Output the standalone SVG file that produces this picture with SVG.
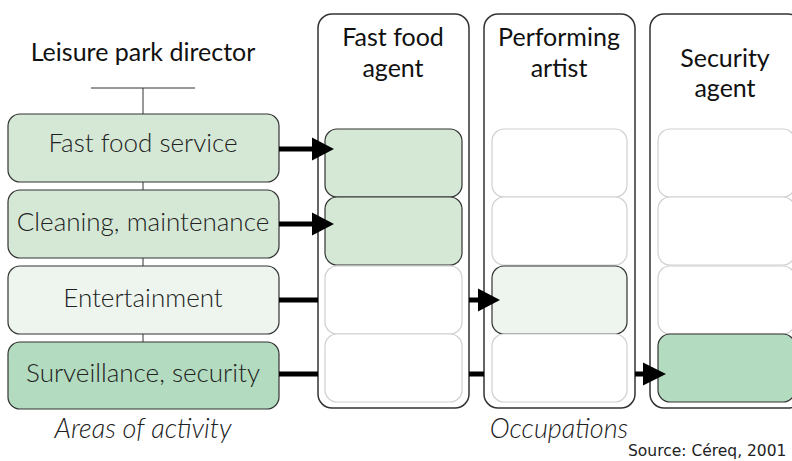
<svg xmlns="http://www.w3.org/2000/svg" width="792" height="461" viewBox="0 0 792 461">
  <style>
    .area { stroke: #333; stroke-width: 1.2; }
    .cell { stroke: #333; stroke-width: 1.2; }
    .empty { fill: #fff; stroke: #cfcfcf; stroke-width: 1.2; }
    .col { fill: #fff; stroke: #333; stroke-width: 1.5; }
    .g1 { fill: #d5e8d6; }
    .g2 { fill: #edf5ee; }
    .g3 { fill: #b3dbbf; }
    .lbl { font-family: Lato, "Liberation Sans", sans-serif; font-weight: 300; font-size: 26px; fill: #222; text-anchor: middle; }
    .head { font-family: Lato, "Liberation Sans", sans-serif; font-weight: 400; font-size: 25px; fill: #111; text-anchor: middle; }
    .cap { font-family: Lato, "Liberation Sans", sans-serif; font-weight: 300; font-style: italic; font-size: 27px; fill: #222; text-anchor: middle; }
    .src { font-family: "DejaVu Sans", sans-serif; font-size: 15.5px; fill: #222; }
    .tree { stroke: #333; stroke-width: 1; fill: none; }
    .link { stroke: #000; stroke-width: 5; fill: none; }
    .tip { fill: #000; }
  </style>

  <!-- organisation tree -->
  <g id="director">
    <text class="head" x="143" y="61" font-size="26">Leisure park director</text>
  </g>
  <g id="tree">
    <line class="tree" x1="91" y1="88" x2="195" y2="88"/>
    <line class="tree" x1="143" y1="88" x2="143" y2="342"/>
  </g>

  <!-- areas of activity -->
  <g id="area-fastfood">
    <rect class="area g1" x="8" y="114" width="271" height="68" rx="12"/>
    <text class="lbl" x="143" y="152">Fast food service</text>
  </g>
  <g id="area-cleaning">
    <rect class="area g1" x="8" y="190" width="271" height="68" rx="12"/>
    <text class="lbl" x="143" y="231">Cleaning, maintenance</text>
  </g>
  <g id="area-entertainment">
    <rect class="area g2" x="8" y="266" width="271" height="68" rx="12"/>
    <text class="lbl" x="143" y="307">Entertainment</text>
  </g>
  <g id="area-security">
    <rect class="area g3" x="8" y="342" width="271" height="67" rx="12"/>
    <text class="lbl" x="143" y="382">Surveillance, security</text>
  </g>

  <!-- occupations -->
  <g id="occ-fastfood">
    <rect class="col" x="318" y="14" width="151" height="394" rx="14"/>
    <text class="head" x="393" y="46">Fast food</text>
    <text class="head" x="393" y="77">agent</text>
    <rect class="cell g1" x="325" y="129" width="137" height="68" rx="12"/>
    <rect class="cell g1" x="325" y="197" width="137" height="68" rx="12"/>
    <rect class="empty" x="325" y="266" width="137" height="68" rx="12"/>
    <rect class="empty" x="325" y="334" width="137" height="68" rx="12"/>
  </g>
  <g id="occ-artist">
    <rect class="col" x="484" y="14" width="151" height="394" rx="14"/>
    <text class="head" x="559" y="46">Performing</text>
    <text class="head" x="559" y="77">artist</text>
    <rect class="empty" x="492" y="129" width="135" height="68" rx="12"/>
    <rect class="empty" x="492" y="197" width="135" height="68" rx="12"/>
    <rect class="cell g2" x="492" y="266" width="135" height="68" rx="12"/>
    <rect class="empty" x="492" y="334" width="135" height="68" rx="12"/>
  </g>
  <g id="occ-security">
    <rect class="col" x="650" y="14" width="152" height="394" rx="14"/>
    <text class="head" x="725" y="67">Security</text>
    <text class="head" x="725" y="97">agent</text>
    <rect class="empty" x="658" y="129" width="137" height="68" rx="12"/>
    <rect class="empty" x="658" y="197" width="137" height="68" rx="12"/>
    <rect class="empty" x="658" y="266" width="137" height="68" rx="12"/>
    <rect class="cell g3" x="658" y="334" width="137" height="68" rx="12"/>
  </g>

  <!-- links from areas to occupations -->
  <g id="connectors">
    <line class="link" x1="279" y1="149" x2="314" y2="149"/>
    <polygon class="tip" points="312,137.5 334,149 312,160.5"/>
    <line class="link" x1="279" y1="224" x2="314" y2="224"/>
    <polygon class="tip" points="312,212.5 334,224 312,235.5"/>
    <line class="link" x1="279" y1="300" x2="318" y2="300"/>
    <line class="link" x1="469" y1="300" x2="480" y2="300"/>
    <polygon class="tip" points="478,288.5 500,300 478,311.5"/>
    <line class="link" x1="279" y1="374" x2="318" y2="374"/>
    <line class="link" x1="469" y1="374" x2="484" y2="374"/>
    <line class="link" x1="635" y1="374" x2="645" y2="374"/>
    <polygon class="tip" points="643,362.5 666,374 643,385.5"/>
  </g>

  <!-- captions -->
  <g id="captions">
    <text class="cap" x="143" y="438">Areas of activity</text>
    <text class="cap" x="559" y="438">Occupations</text>
    <text class="src" x="628" y="456">Source: Céreq, 2001</text>
  </g>
</svg>
